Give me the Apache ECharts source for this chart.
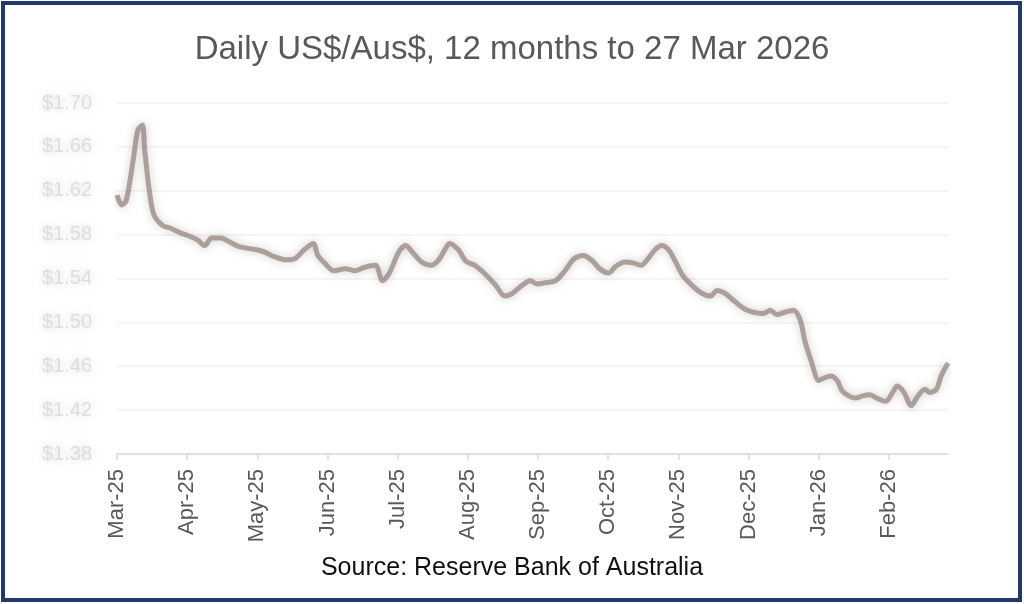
<!DOCTYPE html>
<html>
<head>
<meta charset="utf-8">
<script src="https://cdn.jsdelivr.net/npm/echarts@6/dist/echarts.min.js"></script>
<style>
html,body{margin:0;padding:0;background:#fff;}
#chart{width:1024px;height:604px;}
</style>
</head>
<body>
<div id="chart"></div>
<script>
// Month tick labels (ticks every ~30.4 days from 27 Mar 2025)
const monthLabels = ['Mar-25','Apr-25','May-25','Jun-25','Jul-25','Aug-25','Sep-25','Oct-25','Nov-25','Dec-25','Jan-26','Feb-26'];
// Days since 27 Mar 2025
const days = [0,2,4,7,9,11,12,14,16,20,23,27,31,35,38,41,45,49,53,58,61,64,68,73,77,81,85,87,90,94,99,103,107,112,115,118,122,125,128,132,136,139,142,144,148,151,155,159,164,168,171,175,179,182,185,190,194,198,202,206,209,213,216,220,224,227,230,233,236,239,242,245,249,253,257,260,263,266,270,273,276,280,283,286,289,293,296,298,301,304,306,309,312,314,317,320,323,326,330,333,336,338,341,344,347,350,352,355,357,360];
// Aus$ per US$
const rates = [1.616,1.607,1.611,1.648,1.675,1.680,1.657,1.620,1.598,1.588,1.586,1.582,1.579,1.575,1.570,1.577,1.577,1.573,1.569,1.567,1.566,1.564,1.560,1.557,1.558,1.566,1.572,1.561,1.554,1.547,1.549,1.547,1.550,1.552,1.538,1.545,1.564,1.570,1.564,1.555,1.552,1.556,1.566,1.572,1.566,1.556,1.552,1.545,1.534,1.524,1.526,1.533,1.538,1.535,1.536,1.538,1.547,1.558,1.561,1.556,1.549,1.545,1.551,1.555,1.554,1.552,1.558,1.566,1.570,1.566,1.555,1.543,1.534,1.527,1.524,1.529,1.527,1.522,1.515,1.511,1.509,1.508,1.511,1.507,1.509,1.511,1.502,1.483,1.463,1.447,1.449,1.451,1.447,1.438,1.433,1.431,1.433,1.434,1.430,1.428,1.436,1.442,1.436,1.424,1.433,1.439,1.436,1.439,1.451,1.463];

const seriesData = days.map((d, i) => [d, rates[i]]);
const chart = echarts.init(document.getElementById('chart'), null, {renderer: 'canvas'});
chart.setOption({
  backgroundColor: '#ffffff',
  animation: false,
  title: {
    text: 'Daily US$/Aus$, 12 months to 27 Mar 2026',
    left: 'center',
    top: 28,
    textStyle: {fontFamily: 'Liberation Sans', fontSize: 33, fontWeight: 'normal', color: '#595959'}
  },
  grid: {left: 117, right: 76, top: 103, bottom: 150, containLabel: false},
  xAxis: {
    type: 'value',
    min: 0,
    max: 360,
    interval: 30.4,
    axisLine: {show: true, lineStyle: {color: '#d9d9d9', width: 1.5}},
    axisTick: {show: true, length: 6, lineStyle: {color: '#d9d9d9', width: 1.5}},
    splitLine: {show: false},
    axisLabel: {
      rotate: 90,
      margin: 15,
      showMaxLabel: false,
      fontFamily: 'Liberation Sans',
      fontSize: 22,
      color: '#595959',
      formatter: function (v) {
        const i = Math.round(v / 30.4);
        return (Math.abs(v - i * 30.4) < 0.5 && monthLabels[i]) ? monthLabels[i] : '';
      }
    }
  },
  yAxis: {
    type: 'value',
    min: 1.38,
    max: 1.70,
    interval: 0.04,
    axisLine: {show: false},
    axisTick: {show: false},
    splitLine: {show: true, lineStyle: {color: '#f2f2f2', width: 1.5}},
    axisLabel: {
      margin: 25,
      fontFamily: 'Liberation Sans',
      fontSize: 20,
      color: 'rgba(205,205,205,0.6)',
      textShadowColor: 'rgba(190,190,190,1)',
      textShadowBlur: 10,
      formatter: function (v) { return '$' + v.toFixed(2); }
    }
  },
  series: [{
    type: 'line',
    data: seriesData,
    showSymbol: false,
    smooth: 0.3,
    lineStyle: {
      color: 'rgba(130,110,105,0.6)',
      width: 5,
      shadowColor: 'rgba(130,110,105,0.6)',
      shadowBlur: 9
    }
  }],
  graphic: [
    {
      type: 'rect',
      shape: {x: 3, y: 3, width: 1017, height: 597},
      style: {fill: 'none', stroke: '#1f3a6b', lineWidth: 4},
      z: 100
    },
    {
      type: 'text',
      left: 'center',
      top: 556,
      style: {
        text: 'Source: Reserve Bank of Australia',
        fontFamily: 'Liberation Sans',
        fontSize: 25,
        fill: '#111111'
      }
    }
  ]
});
</script>
</body>
</html>
